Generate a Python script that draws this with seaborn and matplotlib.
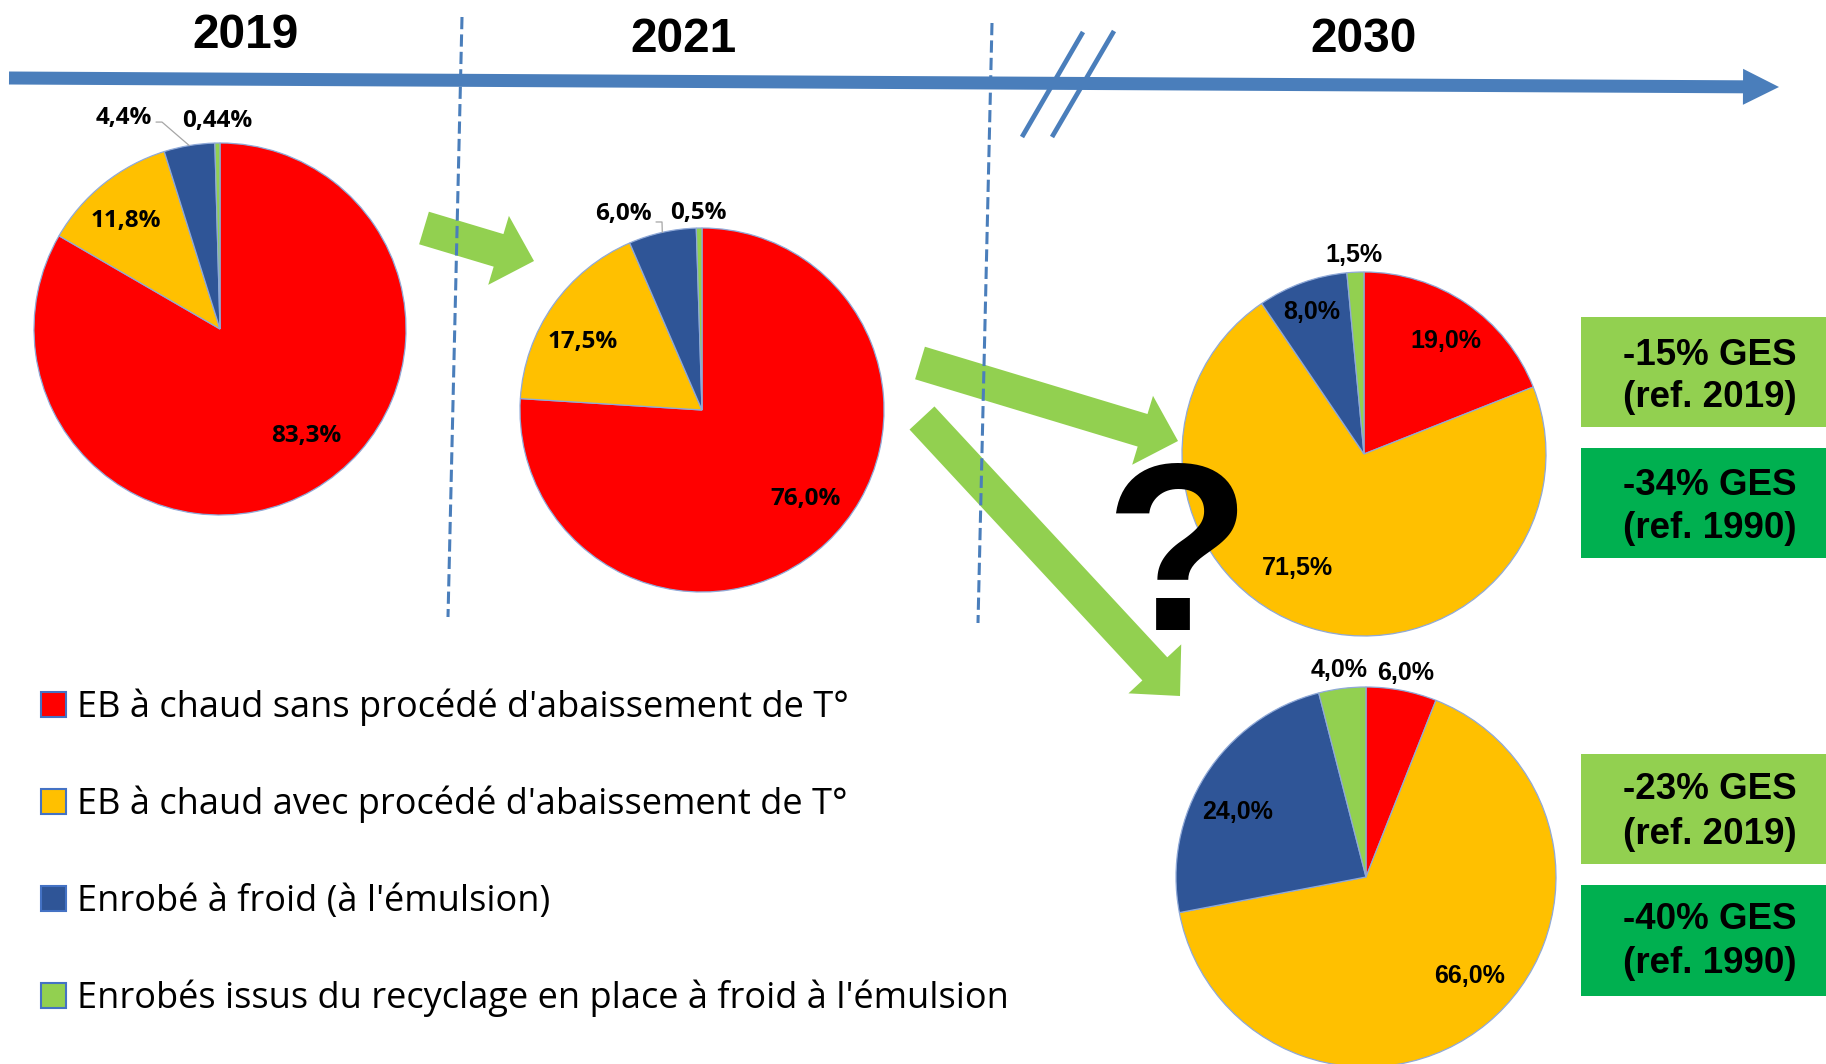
import matplotlib
matplotlib.use("Agg")
import matplotlib.pyplot as plt
import seaborn as sns
import numpy as np
from matplotlib.patches import FancyArrow, Rectangle

# ---------------- data ----------------
categories = ["EB à chaud sans procédé d'abaissement de T°",
              "EB à chaud avec procédé d'abaissement de T°",
              "Enrobé à froid (à l'émulsion)",
              "Enrobés issus du recyclage en place à froid à l'émulsion"]
years = ["2019", "2021", "2030"]
share_2019 = [83.3, 11.8, 4.4, 0.44]
share_2021 = [76.0, 17.5, 6.0, 0.5]
share_2030_a = [19.0, 71.5, 8.0, 1.5]
share_2030_b = [6.0, 66.0, 24.0, 4.0]
ges_vs_2019 = [-15, -23]
ges_vs_1990 = [-34, -40]

# ---------------- style ----------------
W, H = 1826, 1064
sns.set_theme(style="white")
plt.rcParams["font.family"] = ["Open Sans", "DejaVu Sans"]
palette = sns.color_palette(["#FF0000", "#FFC000", "#2F5597", "#92D050"])
BLUE = "#4A7EBB"
LIGHT_GREEN = "#92D050"
DARK_GREEN = "#00B050"
ARIAL = ["Liberation Sans", "DejaVu Sans"]
OPEN = ["Open Sans", "DejaVu Sans"]

fig = plt.figure(figsize=(W / 100, H / 100), dpi=100)
ax = fig.add_axes([0, 0, 1, 1])


def Y(y):
    return H - y


def fmt(v):
    return str(v).replace(".", ",") + "%"


# ---------------- pies ----------------
pies = [
    dict(values=share_2019, cx=220, cy=329, r=186, family=OPEN, size=17.5,
         lab=[(0.462, -0.575), (-0.505, 0.581), (-0.516, 1.134), (-0.016, 1.118)],
         leader=[False, False, True, False], lead_off=(32, 4)),
    dict(values=share_2021, cx=702, cy=410, r=182, family=OPEN, size=17.5,
         lab=[(0.571, -0.489), (-0.654, 0.374), (-0.434, 1.077), (-0.022, 1.082)],
         leader=[False, False, True, False], lead_off=(33, 8)),
    dict(values=share_2030_a, cx=1364, cy=454, r=182, family=ARIAL, size=18,
         lab=[(0.45, 0.62), (-0.363, -0.626), (-0.286, 0.78), (-0.055, 1.093)],
         leader=[False] * 4, lead_off=(0, 0)),
    dict(values=share_2030_b, cx=1366, cy=877, r=190, family=ARIAL, size=18,
         lab=[(0.21, 1.074), (0.547, -0.521), (-0.674, 0.342), (-0.142, 1.089)],
         leader=[False] * 4, lead_off=(0, 0)),
]

for p in pies:
    cx, cy, r = p["cx"], Y(p["cy"]), p["r"]
    wedges, _ = ax.pie(p["values"], colors=palette, startangle=90, counterclock=False,
                       center=(cx, cy), radius=r, frame=True,
                       wedgeprops=dict(edgecolor="#8FA9D8", linewidth=0.9))
    for w in wedges:
        w.set_zorder(2)
    for i, (v, (rx, ry)) in enumerate(zip(p["values"], p["lab"])):
        tx, ty = cx + rx * r, cy + ry * r
        ax.text(tx, ty, fmt(v), ha="center", va="center", fontsize=p["size"],
                fontweight="bold", family=p["family"], color="black", zorder=5)
        if p["leader"][i]:
            w = wedges[i]
            mid = np.deg2rad((w.theta1 + w.theta2) / 2)
            ex, ey = cx + r * np.cos(mid), cy + r * np.sin(mid)
            ax_, ay_ = tx + p["lead_off"][0], ty - p["lead_off"][1]
            ax.plot([ax_, ax_ + 6, ex], [ay_, ay_, ey], color="#A6A6A6", lw=0.9, zorder=4)

# ---------------- timeline ----------------
x0, y0, x1, y1 = 9, Y(78), 1779, Y(87)
ax.add_patch(FancyArrow(x0, y0, x1 - x0, y1 - y0, width=13, head_width=36, head_length=36,
                        length_includes_head=True, color=BLUE, lw=0, zorder=3))
for xs, ys in [((462, 448), (17, 617)), ((992, 978), (23, 623))]:
    ax.plot(xs, [Y(v) for v in ys], color=BLUE, lw=2.2, dashes=(4, 1.7), zorder=6)
for xs, ys in [((1022, 1083), (137, 32)), ((1052, 1114), (137, 31))]:
    ax.plot(xs, [Y(v) for v in ys], color=BLUE, lw=3.4, solid_capstyle="butt", zorder=4)

year_pos = [(245, 48), (683, 52), (1364, 52)]
for yr, (xp, yb) in zip(years, year_pos):
    ax.text(xp, Y(yb), yr, ha="center", va="baseline", fontsize=34.5, fontweight="bold",
            family=ARIAL, color="black", zorder=5)

# ---------------- green arrows ----------------
for (tx0, ty0), (tx1, ty1) in [((424, 228), (534, 261)), ((920, 363), (1178, 441)),
                               ((922, 418), (1180, 696))]:
    ax.add_patch(FancyArrow(tx0, Y(ty0), tx1 - tx0, Y(ty1) - Y(ty0), width=34, head_width=72,
                            head_length=37, length_includes_head=True, color=LIGHT_GREEN,
                            lw=0, zorder=3))

ax.text(1178, Y(630), "?", ha="center", va="baseline", fontsize=172, fontweight="bold",
        family=ARIAL, color="black", zorder=7)

# ---------------- GES boxes ----------------
boxes = [(317, 427, LIGHT_GREEN, ges_vs_2019[0], "2019", (365, 407)),
         (448, 558, DARK_GREEN, ges_vs_1990[0], "1990", (495, 538)),
         (754, 864, LIGHT_GREEN, ges_vs_2019[1], "2019", (799, 844)),
         (885, 996, DARK_GREEN, ges_vs_1990[1], "1990", (929, 973))]
for top, bot, col, val, ref, (b1, b2) in boxes:
    ax.add_patch(Rectangle((1581, Y(bot)), W - 1581, bot - top, facecolor=col,
                           edgecolor="none", zorder=3))
    ax.text(1710, Y(b1), f"{val}% GES", ha="center", va="baseline", fontsize=26.5,
            fontweight="bold", family=ARIAL, color="black", zorder=5)
    ax.text(1710, Y(b2), f"(ref. {ref})", ha="center", va="baseline", fontsize=26.5,
            fontweight="bold", family=ARIAL, color="black", zorder=5)

# ---------------- legend ----------------
leg_base = [717, 814, 911, 1008]
for cat, col, yb in zip(categories, palette, leg_base):
    ax.add_patch(Rectangle((41, Y(yb)), 25, 25, facecolor=col, edgecolor="#4472C4",
                           lw=1.5, zorder=3))
    ax.text(77, Y(yb), cat, ha="left", va="baseline", fontsize=26,
            family=OPEN, color="black", zorder=5)

ax.set_xlim(0, W)
ax.set_ylim(0, H)
ax.set_aspect("auto")
ax.set_axis_off()
fig.savefig("out.png", dpi=100, facecolor="white")
